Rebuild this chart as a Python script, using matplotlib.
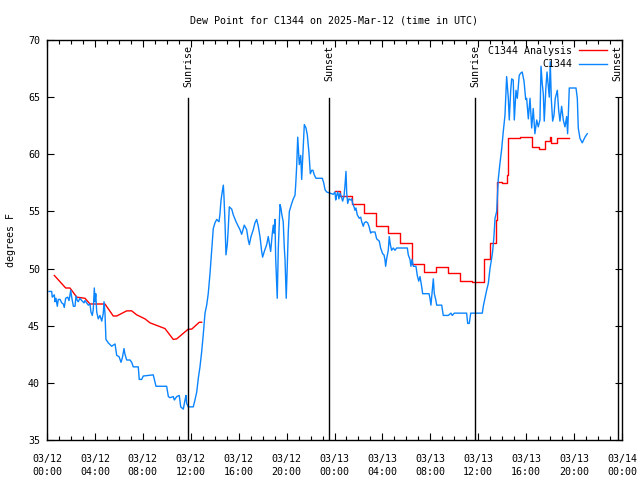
import matplotlib
matplotlib.use("Agg")
import matplotlib.pyplot as plt
import numpy as np

# ---------------- data ----------------
# hours since 2025-03-12 00:00 UTC
obs_hours = [
    0.17, 0.39, 0.44, 0.61, 0.67, 0.75, 0.86, 0.94, 1.09, 1.23, 1.36, 1.44, 1.56, 1.73, 1.84, 1.98,
    2.06, 2.20, 2.34, 2.42, 2.53, 2.61, 2.75, 2.90, 3.09, 3.17, 3.31, 3.45, 3.59, 3.67, 3.78, 3.86,
    3.95, 4.01, 4.07, 4.15, 4.28, 4.42, 4.57, 4.70, 4.76, 4.84, 4.92, 5.12, 5.40, 5.53, 5.68, 5.82,
    6.01, 6.18, 6.29, 6.43, 6.51, 6.65, 6.93, 7.07, 7.20, 7.62, 7.70, 7.90, 8.04, 8.87, 9.10, 9.99,
    10.13, 10.27, 10.54, 10.63, 10.83, 11.04, 11.16, 11.38, 11.52, 11.60, 11.66, 11.79, 12.21, 12.35,
    12.50, 12.63, 12.77, 12.91, 13.05, 13.19, 13.33, 13.46, 13.61, 13.75, 13.88, 14.02, 14.17, 14.36,
    14.44, 14.52, 14.61, 14.72, 14.77, 14.86, 14.94, 15.05, 15.13, 15.22, 15.42, 15.55, 15.78, 15.97,
    16.11, 16.25, 16.47, 16.67, 16.80, 16.89, 17.03, 17.22, 17.36, 17.50, 17.64, 17.78, 17.92, 18.00,
    18.14, 18.34, 18.47, 18.56, 18.67, 18.81, 18.89, 18.95, 19.03, 19.09, 19.17, 19.22, 19.31, 19.39,
    19.45, 19.53, 19.59, 19.72, 19.81, 19.87, 19.92, 19.97, 20.06, 20.14, 20.23, 20.43, 20.56, 20.70,
    20.76, 20.84, 20.93, 21.06, 21.18, 21.26, 21.39, 21.48, 21.62, 21.73, 21.87, 21.98, 22.10, 22.20,
    22.31, 22.45, 22.98, 23.10, 23.21, 23.35, 23.62, 23.90, 24.04, 24.10, 24.18, 24.27, 24.37, 24.46,
    24.54, 24.68, 24.79, 24.87, 24.96, 25.02, 25.10, 25.21, 25.35, 25.43, 25.52, 25.63, 25.71, 25.79,
    25.90, 26.07, 26.19, 26.27, 26.40, 26.49, 26.63, 26.77, 26.88, 27.02, 27.10, 27.38, 27.52, 27.74,
    27.85, 28.02, 28.13, 28.21, 28.27, 28.36, 28.49, 28.57, 28.66, 28.77, 28.91, 29.05, 29.19, 30.08,
    30.16, 30.30, 30.38, 30.47, 30.58, 30.80, 30.91, 31.03, 31.14, 31.28, 31.36, 31.89, 31.97, 32.05,
    32.16, 32.25, 32.33, 32.45, 32.53, 32.95, 33.08, 33.50, 33.72, 33.83, 34.00, 35.03, 35.12, 35.25,
    35.37, 36.34, 36.42, 36.56, 36.70, 36.84, 36.98, 37.12, 37.20, 37.31, 37.40, 37.54, 37.67, 37.81,
    37.95, 38.09, 38.23, 38.37, 38.51, 38.59, 38.71, 38.79, 38.92, 39.01, 39.15, 39.26, 39.42, 39.54,
    39.67, 39.82, 39.96, 40.04, 40.18, 40.32, 40.46, 40.59, 40.73, 40.88, 41.01, 41.15, 41.24, 41.34,
    41.43, 41.51, 41.65, 41.74, 41.85, 41.93, 42.01, 42.10, 42.21, 42.32, 42.43, 42.60, 42.71, 42.82,
    42.96, 43.10, 43.24, 43.38, 43.46, 43.60, 44.16, 44.27, 44.35, 44.49, 44.68, 44.91, 45.10,
]
obs_dewpoint = [
    48.0, 48.0, 47.5, 47.7, 47.1, 47.4, 46.7, 47.3, 47.3, 47.0, 46.9, 46.6, 47.4, 47.5, 47.2, 48.1,
    47.5, 46.7, 46.7, 47.6, 47.2, 47.1, 47.4, 47.2, 47.0, 47.2, 47.0, 46.8, 46.9, 46.2, 45.9, 46.4,
    48.3, 47.1, 47.8, 46.2, 45.6, 45.9, 45.4, 46.1, 47.1, 46.1, 43.8, 43.5, 43.2, 43.3, 43.4, 42.4,
    42.3, 41.8, 42.2, 43.0, 42.5, 42.0, 42.0, 41.8, 41.4, 41.4, 40.3, 40.3, 40.6, 40.7, 39.7, 39.7,
    38.8, 38.7, 38.8, 38.5, 38.8, 38.9, 37.9, 37.7, 38.5, 38.9, 38.2, 37.9, 37.9, 38.5,
    39.2, 40.4, 41.4, 42.7, 44.3, 46.1, 46.8, 47.8, 49.6, 51.6, 53.5, 54.0, 54.3, 54.1,
    54.8, 55.9, 56.6, 57.3, 56.4, 54.0, 51.2, 52.1, 53.5, 55.4, 55.2, 54.7, 54.1, 53.7,
    53.4, 53.0, 53.8, 53.4, 52.5, 52.1, 52.8, 53.4, 54.0, 54.3, 53.7, 52.8, 51.5, 51.0,
    51.5, 52.1, 52.8, 52.2, 51.5, 53.1, 53.8, 53.1, 54.3, 50.9, 48.6, 47.4, 51.8, 54.1,
    55.6, 55.3, 54.8, 54.1, 51.8, 50.8, 49.1, 47.4, 50.3, 53.2, 55.0, 55.7, 56.1, 56.4,
    57.3, 58.9, 61.5, 59.1, 59.9, 57.8, 60.7, 62.6, 62.3, 61.7, 60.1, 58.3, 58.6, 58.6,
    58.2, 57.9, 57.9, 57.5, 56.9, 56.7, 56.6, 56.5, 56.7, 56.0, 56.4, 56.7, 56.1, 56.6,
    56.4, 55.9, 56.3, 57.2, 58.5, 56.6, 55.7, 56.1, 56.0, 56.1, 55.7, 55.4, 55.1, 55.3,
    54.7, 54.4, 54.5, 54.1, 53.7, 54.0, 54.1, 54.0, 53.7, 53.1, 53.2, 53.2, 52.6, 52.4,
    51.8, 51.3, 51.2, 50.8, 50.2, 50.9, 51.6, 52.8, 52.1, 51.6, 51.8, 51.6, 51.8, 51.8,
    51.2, 50.8, 50.2, 50.8, 50.2, 50.2, 49.4, 48.9, 49.3, 48.4, 47.8, 47.8, 47.4, 46.8,
    48.1, 49.1, 47.8, 47.3, 46.8, 46.8, 45.9, 45.9, 46.1, 45.9, 46.1, 46.1, 45.2, 45.2,
    46.1, 46.1, 46.7, 47.4, 48.1, 48.7, 50.0, 50.9, 51.5, 52.8, 54.4, 55.0, 57.8, 59.2,
    60.4, 62.0, 63.4, 66.8, 64.9, 63.0, 65.6, 66.6, 66.5, 63.0, 65.6, 64.9, 66.9, 67.1,
    67.2, 66.4, 64.8, 64.9, 63.1, 64.9, 62.3, 64.0, 61.8, 63.0, 62.4, 63.0, 67.7, 66.2,
    65.3, 62.9, 65.9, 67.2, 65.9, 65.0, 68.1, 64.8, 62.9, 63.4, 64.9, 65.6, 63.9, 62.9,
    64.2, 63.0, 62.4, 63.3, 61.8, 65.8, 65.8, 64.9, 62.3, 61.4, 61.0, 61.5, 61.8,
]

# analysis, first period (smooth)
ana1_hours = [0.61, 1.56, 1.92, 2.48, 3.17, 3.59, 4.84, 5.53, 5.82, 6.65, 7.07, 7.49, 8.18,
              8.60, 9.85, 10.54, 10.83, 11.79, 12.08, 12.71, 12.91]
ana1_dewpoint = [49.4, 48.3, 48.3, 47.5, 47.4, 46.9, 46.9, 45.85, 45.85, 46.3, 46.3, 45.95, 45.6,
                 45.25, 44.75, 43.8, 43.85, 44.7, 44.7, 45.3, 45.3]
# analysis, second period (stepped)
ana2_hours = [24.0, 24.5, 25.5, 26.5, 27.5, 28.5, 29.5, 30.5, 31.5, 32.5, 33.5, 34.5, 35.5,
              36.5, 37.0, 37.5, 37.6, 38.0, 38.4, 38.5, 39.5, 40.5, 41.1, 41.6, 42.0, 42.1,
              42.6, 43.6]
ana2_dewpoint = [56.8, 56.35, 55.65, 54.85, 53.75, 53.1, 52.25, 50.4, 49.7, 50.15, 49.6, 48.9,
                 48.8, 50.85, 52.25, 54.25, 57.6, 57.5, 58.2, 61.4, 61.5, 60.65, 60.45, 61.15,
                 61.5, 61.0, 61.4, 61.4]

sun_hours = [11.80, 23.57, 35.75, 47.65]
sun_labels = ["Sunrise", "Sunset", "Sunrise", "Sunset"]

xtick_hours = [0, 4, 8, 12, 16, 20, 24, 28, 32, 36, 40, 44, 48]
xtick_labels = ["03/12\n00:00", "03/12\n04:00", "03/12\n08:00", "03/12\n12:00", "03/12\n16:00",
                "03/12\n20:00", "03/13\n00:00", "03/13\n04:00", "03/13\n08:00", "03/13\n12:00",
                "03/13\n16:00", "03/13\n20:00", "03/14\n00:00"]
yticks = [35, 40, 45, 50, 55, 60, 65, 70]

# ---------------- plot ----------------
FS = 7.2
plt.rcParams['font.family'] = ['DejaVu Sans Mono']
plt.rcParams['font.size'] = FS

fig = plt.figure(figsize=(6.4, 4.8), dpi=100)
ax = fig.add_axes([47/640, 40/480, 575/640, 400/480])

RED = '#ff0000'
BLUE = '#0a84ff'

ax.plot(ana1_hours, ana1_dewpoint, color=RED, lw=1.0, label='C1344 Analysis')
ax.plot(ana2_hours, ana2_dewpoint, color=RED, lw=1.0, drawstyle='steps-post')
ax.plot(obs_hours, obs_dewpoint, color=BLUE, lw=1.0, label='C1344')

for h, lab in zip(sun_hours, sun_labels):
    ax.plot([h, h], [35, 64.9], color='black', lw=1.0)
    ax.text(h, 69.6, lab, rotation=90, ha='center', va='top', fontsize=FS)

ax.set_xlim(0, 48)
ax.set_ylim(35, 70)
ax.set_xticks(xtick_hours)
ax.set_xticklabels(xtick_labels, linespacing=1.35)
ax.set_xticks(np.arange(0, 49, 1), minor=True)
ax.set_yticks(yticks)
ax.tick_params(axis='both', which='both', direction='in', top=True, right=True, width=0.8)
ax.tick_params(axis='both', which='major', length=5)
ax.tick_params(axis='x', which='minor', length=3)
ax.tick_params(axis='x', which='major', pad=10)
ax.tick_params(axis='y', which='major', pad=5)
for s in ax.spines.values():
    s.set_linewidth(1.0)

ax.set_ylabel('degrees F', labelpad=9)
ax.set_title('Dew Point for C1344 on 2025-Mar-12 (time in UTC)', fontsize=FS, pad=12)

leg = ax.legend(loc='upper right', frameon=False, markerfirst=False, handlelength=2.8,
                handletextpad=0.6, labelspacing=0.35, borderaxespad=0.0,
                bbox_to_anchor=(0.980, 0.995), fontsize=FS)

fig.savefig('out.png', dpi=100)
